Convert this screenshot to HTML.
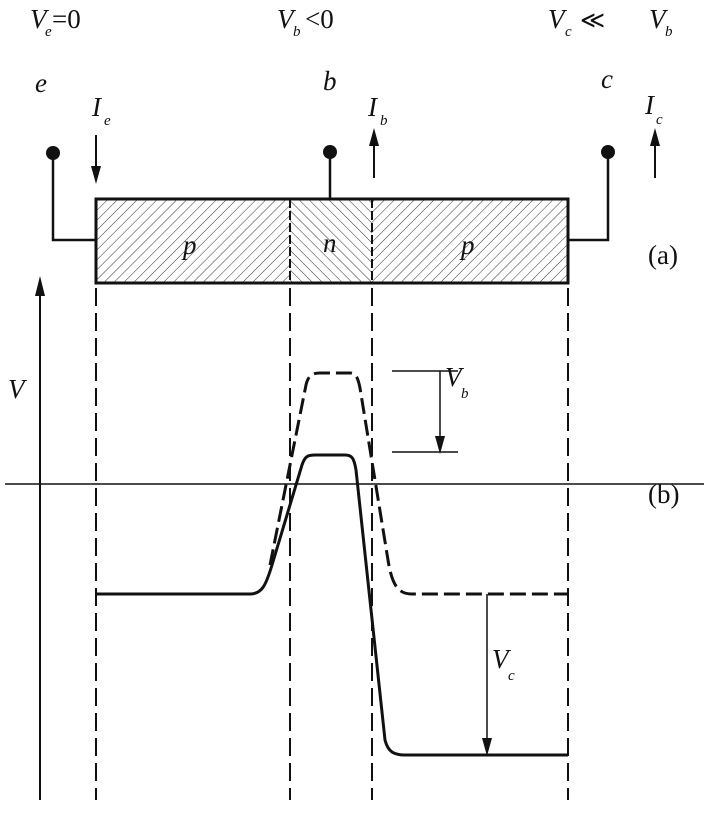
<!DOCTYPE html>
<html><head><style>
body{margin:0;background:#fff}
text{font-family:"Liberation Serif","DejaVu Serif",serif !important}
</style></head><body>
<svg width="704" height="808" viewBox="0 0 704 808" xmlns="http://www.w3.org/2000/svg">
<defs>
<pattern id="hp" width="7" height="7" patternUnits="userSpaceOnUse" patternTransform="rotate(45)"><line x1="0" y1="0" x2="0" y2="7" stroke="#333" stroke-width="1"/></pattern>
<pattern id="hn" width="7" height="7" patternUnits="userSpaceOnUse" patternTransform="rotate(-45)"><line x1="0" y1="0" x2="0" y2="7" stroke="#333" stroke-width="1"/></pattern>
</defs>
<g font-style="italic" font-size="27" fill="#111">
<text x="30" y="28">V</text><text x="45" y="36" font-size="15">e</text>
<text x="277" y="28">V</text><text x="293" y="36" font-size="15">b</text>
<text x="548" y="28">V</text><text x="565" y="36" font-size="15">c</text>
<text x="649" y="28">V</text><text x="665" y="36" font-size="15">b</text>
<text x="35" y="92">e</text><text x="323" y="90">b</text><text x="601" y="88">c</text>
<text x="92" y="116">I</text><text x="104" y="125" font-size="15">e</text>
<text x="368" y="116">I</text><text x="380" y="125" font-size="15">b</text>
<text x="645" y="114">I</text><text x="656" y="124" font-size="15">c</text>
<text x="183" y="254">p</text><text x="323" y="252">n</text><text x="461" y="254">p</text>
<text x="8" y="398">V</text>
<text x="445" y="386">V</text><text x="461" y="398" font-size="15">b</text>
<text x="492" y="668">V</text><text x="508" y="680" font-size="15">c</text>
</g>
<g font-size="27" fill="#111"><text x="52" y="28">=0</text><text x="305" y="28">&lt;0</text><text x="580" y="28" font-size="24">≪</text>
<text x="648" y="264">(a)</text><text x="648" y="503">(b)</text></g>
<rect x="96" y="199" width="194" height="84" fill="url(#hp)"/>
<rect x="290" y="199" width="82" height="84" fill="url(#hn)"/>
<rect x="372" y="199" width="196" height="84" fill="url(#hp)"/>
<rect x="96" y="199" width="472" height="84" fill="none" stroke="#111" stroke-width="3"/>
<line x1="290" y1="199" x2="290" y2="283" stroke="#111" stroke-width="2" stroke-dasharray="9,3"/>
<line x1="372" y1="199" x2="372" y2="283" stroke="#111" stroke-width="2" stroke-dasharray="9,3"/>
<g stroke="#111" stroke-width="2.5" fill="none">
<polyline points="53,153 53,240 96,240"/><line x1="330" y1="152" x2="330" y2="199"/><polyline points="608,152 608,240 568,240"/>
</g>
<g fill="#111"><circle cx="53" cy="153" r="7"/><circle cx="330" cy="152" r="7"/><circle cx="608" cy="152" r="7"/></g>
<g stroke="#111" stroke-width="2">
<line x1="96" y1="135" x2="96" y2="170"/>
<line x1="374" y1="178" x2="374" y2="140"/>
<line x1="655" y1="178" x2="655" y2="140"/>
<line x1="40" y1="800" x2="40" y2="290"/>
<line x1="5" y1="484" x2="704" y2="484" stroke-width="1.6"/>
<line x1="392" y1="371" x2="458" y2="371" stroke-width="1.5"/><line x1="392" y1="452" x2="458" y2="452" stroke-width="1.5"/>
<line x1="440" y1="371" x2="440" y2="440" stroke-width="1.5"/>
<line x1="487" y1="594" x2="487" y2="742" stroke-width="1.5"/>
</g>
<g fill="#111">
<polygon points="91,166 101,166 96,184"/>
<polygon points="369,146 379,146 374,128"/>
<polygon points="650,146 660,146 655,128"/>
<polygon points="35,296 45,296 40,276"/>
<polygon points="435,436 445,436 440,454"/>
<polygon points="482,738 492,738 487,756"/>
</g>
<g stroke="#111" stroke-width="2" stroke-dasharray="18,7">
<line x1="96" y1="288" x2="96" y2="800"/><line x1="290" y1="288" x2="290" y2="800"/>
<line x1="372" y1="288" x2="372" y2="800"/><line x1="568" y1="288" x2="568" y2="800"/>
</g>
<path d="M96,594 L250,594 C262,594 266,585 272,565 L302,465 C305,456 308,455 315,455 L345,455 C352,455 354,458 356,470 L385,740 C388,752 394,755 405,755 L568,755" fill="none" stroke="#111" stroke-width="3"/>
<path d="M270,565 L306,385 C308,376 312,373 320,373 L350,373 C356,373 358,378 360,388 L388,560 C392,585 398,594 412,594 L568,594" fill="none" stroke="#111" stroke-width="3" stroke-dasharray="16,6"/>
</svg>
</body></html>
